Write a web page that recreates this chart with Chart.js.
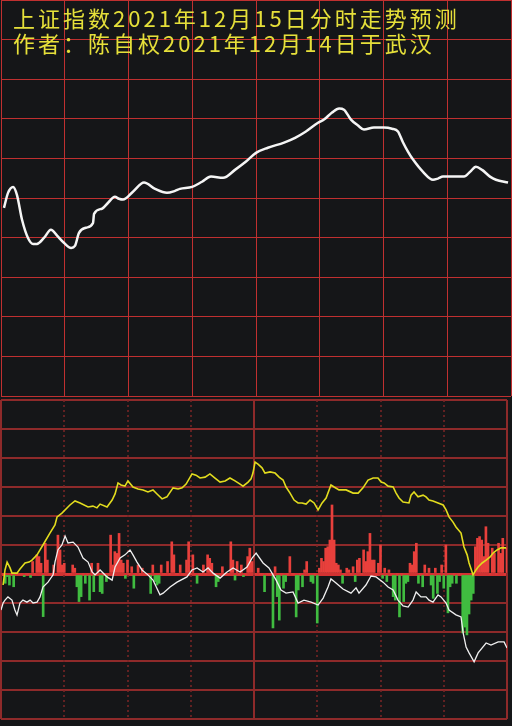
<!DOCTYPE html>
<html>
<head>
<meta charset="utf-8">
<script src="https://cdn.jsdelivr.net/npm/chart.js@4"></script>
<style>
  html, body { margin: 0; padding: 0; background: #151618; }
  #wrap { position: relative; width: 512px; height: 726px; overflow: hidden; background: #151618; }
  canvas { position: absolute; left: 0; }
  #top { top: 0; width: 512px; height: 398px; }
  #bot { top: 398px; width: 512px; height: 328px; }
  #title {
    position: absolute; left: 13px; top: 5px;
    color: #e6e03a; font: 22px/25px "Noto Sans CJK SC", sans-serif;
    letter-spacing: 3px; white-space: nowrap;
  }
</style>
</head>
<body>
<div id="wrap">
  <canvas id="top" width="512" height="398"></canvas>
  <canvas id="bot" width="512" height="328"></canvas>
  <div id="title">上证指数2021年12月15日分时走势预测<br>作者：陈自权2021年12月14日于武汉</div>
</div>
<script>
// top panel: predicted intraday curve (minutes from open, grid units)
const priceMin = [1.4, 3.3, 5.7, 7.5, 9.9, 12.7, 15.1, 16.9, 20.2, 23.5, 26.4, 29.6, 33.0, 34.8, 36.7, 40.0,
  43.3, 43.8, 47.5, 50.4, 53.6, 55.5, 57.4, 62.1, 67.3, 72.5, 78.1, 81.9, 84.2, 89.9, 94.6, 98.8, 104.5,
  110.1, 115.3, 120.0, 125.6, 133.2, 138.4, 143.5, 149.2, 152.0, 155.8, 159.1, 161.4, 164.7, 168.0, 170.8,
  175.5, 180.2, 184.0, 186.8, 189.2, 191.5, 193.9, 198.6, 203.3, 205.6, 208.0, 213.2, 217.9, 220.7, 223.5,
  226.4, 230.1, 232.9, 238.6];
const priceVal = [4.75, 5.13, 5.28, 5.08, 4.45, 3.99, 3.84, 3.84, 3.99, 4.20, 4.05, 3.87, 3.74, 3.79, 4.12, 4.25,
  4.37, 4.60, 4.73, 4.88, 5.03, 4.98, 4.96, 5.16, 5.39, 5.23, 5.13, 5.18, 5.23, 5.28, 5.41, 5.54, 5.51,
  5.71, 5.92, 6.14, 6.27, 6.40, 6.52, 6.68, 6.90, 6.98, 7.16, 7.26, 7.23, 6.98, 6.83, 6.73,
  6.78, 6.78, 6.75, 6.68, 6.40, 6.17, 5.97, 5.66, 5.46, 5.49, 5.54, 5.54, 5.54, 5.66, 5.79,
  5.71, 5.54, 5.46, 5.39];

// bottom panel: yellow line
const yellowMin = [1.0, 1.9, 2.9, 4.3, 5.2, 7.6, 9.0, 11.4, 13.3, 14.7, 17.1, 19.9, 23.2, 25.6, 26.6, 28.9,
  32.7, 35.1, 37.5, 41.3, 43.6, 45.5, 47.0, 50.3, 52.7, 54.1, 55.5, 56.9, 58.8, 60.2, 62.6, 65.0, 67.4,
  69.7, 72.1, 74.0, 76.4, 78.7, 81.6, 84.0, 85.9, 87.8, 90.6, 92.5, 94.4, 96.8, 99.1, 101.5, 103.9, 106.3,
  108.6, 111.0, 113.4, 114.8, 117.2, 118.6, 119.5, 120.5, 121.9, 123.8, 125.2, 127.6, 130.0, 131.9, 133.8,
  135.2, 137.1, 139.0, 140.9, 142.8, 144.7, 146.6, 148.5, 150.4, 152.3, 154.2, 156.5, 158.0, 160.3, 163.7,
  167.0, 169.4, 171.7, 174.1, 176.5, 178.8, 180.3, 181.7, 183.6, 186.0, 187.4, 188.8, 190.7, 193.5, 194.5,
  195.9, 197.8, 200.2, 201.6, 203.0, 204.9, 207.3, 209.7, 211.1, 212.5, 214.4, 215.8, 218.2, 219.6, 221.1,
  222.0, 223.9, 225.3, 226.3, 228.2, 230.1, 232.0, 233.4, 235.3, 237.2, 239.6];
const yellowVal = [-0.38, 0.14, 0.41, 0.21, 0.03, 0.03, 0.17, 0.38, 0.41, 0.48, 0.66, 1.00, 1.41, 1.69, 1.97, 2.10,
  2.38, 2.52, 2.45, 2.31, 2.34, 2.28, 2.41, 2.31, 2.55, 2.76, 3.14, 3.07, 3.03, 3.21, 3.00, 2.93, 2.90,
  2.83, 2.90, 2.76, 2.59, 2.66, 2.97, 2.93, 2.97, 3.10, 3.45, 3.41, 3.31, 3.34, 3.45, 3.31, 3.17, 3.21,
  3.31, 3.21, 3.10, 3.03, 3.17, 3.28, 3.48, 3.86, 3.79, 3.66, 3.48, 3.52, 3.48, 3.34, 3.24,
  3.00, 2.79, 2.55, 2.45, 2.45, 2.41, 2.55, 2.45, 2.21, 2.45, 2.62, 3.07, 3.00, 2.90, 2.90,
  2.79, 2.79, 2.97, 3.24, 3.31, 3.31, 3.17, 3.14, 3.03, 3.00, 2.79, 2.62, 2.48, 2.45, 2.72,
  2.83, 2.66, 2.72, 2.66, 2.55, 2.52, 2.45, 2.38, 2.21, 1.97, 1.79, 1.62, 1.41, 0.93, 0.66,
  0.38, -0.03, 0.14, 0.24, 0.38, 0.48, 0.59, 0.72, 0.83, 0.90, 0.90];

// bottom panel: white line
const whiteMin = [0, 1.0, 1.9, 3.3, 5.2, 6.6, 7.6, 9.0, 10.4, 12.3, 13.8, 15.2, 17.1, 18.5, 19.9, 22.3, 24.7,
  25.6, 27.0, 28.9, 30.4, 31.8, 34.2, 36.5, 38.9, 41.3, 43.2, 44.6, 47.0, 50.3, 52.7, 54.1, 56.5, 58.8,
  61.2, 62.6, 64.5, 66.9, 69.7, 72.1, 75.4, 76.9, 80.2, 83.5, 88.2, 90.6, 93.0, 95.8, 98.2, 100.6, 103.9,
  107.2, 110.1, 113.4, 116.7, 119.1, 121.0, 124.3, 127.1, 130.5, 132.8, 135.2, 138.5, 140.9, 143.7, 147.1,
  150.4, 152.8, 155.1, 156.5, 158.9, 162.2, 166.0, 168.4, 169.8, 173.1, 175.5, 177.9, 181.2, 183.6, 186.0,
  188.3, 190.7, 193.1, 195.4, 196.9, 199.2, 201.6, 203.0, 204.9, 207.3, 208.7, 211.1, 212.5, 215.8, 218.2,
  219.2, 220.6, 222.0, 224.4, 226.3, 230.1, 232.4, 235.8, 238.6, 240];
const whiteVal = [-1.24, -1.00, -0.90, -0.79, -0.90, -1.24, -1.41, -1.00, -0.90, -0.97, -0.90, -1.00, -0.97, -0.79, -0.45, -0.28, -0.03,
  0.41, 0.83, 1.00, 1.31, 1.07, 1.10, 0.93, 0.55, 0.41, 0.07, -0.03, 0.14, -0.10, -0.21, 0.24, 0.55, 0.66,
  0.83, 0.66, 0.41, 0.14, -0.03, -0.21, -0.72, -0.66, -0.45, -0.28, -0.10, 0.14, 0.21, 0.07, 0.21, 0.03, -0.14,
  0.07, 0.21, 0.07, 0.24, 0.55, 0.72, 0.38, 0.21, -0.21, -0.55, -0.66, -0.62, -1.00, -0.90, -0.97,
  -1.07, -0.83, -0.45, -0.17, -0.31, -0.52, -0.66, -0.48, -0.66, -0.38, -0.07, -0.10, -0.28, -0.45, -0.55,
  -0.90, -1.10, -1.14, -0.90, -0.62, -0.79, -0.79, -0.90, -0.97, -0.72, -0.79, -1.00, -1.24, -1.41, -1.48,
  -2.03, -2.52, -2.72, -3.03, -2.72, -2.38, -2.45, -2.34, -2.34, -2.55];

// bottom panel: red/green bars, one per minute (0..240)
const flowBars = [
  0, 0, -0.32, -0.09, -0.38, 0, -0.44, 0, 0, 0,
  0, -0.09, 0, 0, -0.12, 0.43, 0, 0.66, 0.6, 0.37,
  -1.47, 1.06, 0.48, 0, 0, 0.31, 0, 1.34, 0.83, 0.31,
  0.37, 0, 0, 0, 0.31, 0.2, -0.44, -0.95, -0.78, 0,
  -0.32, 0, -0.9, 0.37, -0.61, 0, 0.37, -0.61, -0.67, 0,
  -0.26, 0, 1.34, 0.31, 0.77, 0.71, 1.4, 0.48, 0.37, -0.15,
  0.48, 0, 0.25, -0.49, 0, 0.31, 0, 0.2, 0, 0,
  0, -0.67, 0.31, -0.26, -0.38, -0.32, 0.31, 0, 0, 0.43,
  0, 1.11, 0.66, 0, 0, 0.31, 0, 0, 0.48, 1.11,
  0, 0.66, 0, -0.32, 0, 0, 0.31, 0, 0.66, 0.54,
  0.37, 0, -0.44, -0.26, 0, 0.25, 0, 0, 0, 1.11,
  0.48, -0.21, 0.43, 0, 0.31, -0.09, 0, 0.6, 0.89, 0.43,
  0, 0, 0.2, 0, 0, -0.61, 0, 0, 0, -1.86,
  0.25, -0.78, -1.59, 0, -0.49, -0.26, 0, 0.6, 0, 0,
  -1.48, -0.55, 0, -0.44, 0.14, 0.43, 0, -0.26, -0.32, 0,
  -1.69, 0.2, 0.54, 0.43, 0.89, 0.94, 1.17, 2.38, 1.17, 0.37,
  0.31, 0.14, -0.32, 0, 0.2, 0.14, 0, 0.25, -0.26, 0.48,
  0.54, 0, 0.83, 0.43, 0.77, 1.4, 0.48, 0.48, 0, 0.37,
  1.0, -0.15, 0.2, -0.26, 0.14, 0, -0.78, -0.9, 0, -1.48,
  0, -0.95, -0.32, -0.26, 0.37, 0.31, 0.77, 1.06, -0.32, 0,
  -0.44, 0.31, 0, 0.2, -0.38, -0.84, 0.2, -0.67, -0.26, 0.31,
  -0.49, 1.0, -1.34, -0.44, -0.32, 0, -0.32, 0, 0, -2.03,
  -1.83, -2.1, -1.38, -0.9, -0.67, 0.94, 1.23, 1.29, 1.17, 0.6,
  1.63, 1.06, 0, 0.89, 0.71, 0, 1.06, 0.71, 1.23, 0,
  0.89
];

function pts(xs, ys) {
  return xs.map((x, i) => ({ x: x, y: ys[i] }));
}

// axes take no room: the plot fills the canvas
function noRoom(scale) {
  if (scale.isHorizontal()) scale.height = 0;
  else scale.width = 0;
}

new Chart(document.getElementById('top'), {
  type: 'line',
  data: {
    datasets: [{
      label: '预测走势',
      data: pts(priceMin, priceVal),
      borderColor: '#f5f5f5',
      borderWidth: 2.5,
      pointRadius: 0,
      cubicInterpolationMode: 'monotone',
      fill: false
    }]
  },
  options: {
    responsive: false,
    animation: false,
    layout: { padding: { left: 1, right: 1, top: 0, bottom: 2 }, autoPadding: false },
    plugins: { legend: { display: false }, tooltip: { enabled: false } },
    scales: {
      x: {
        type: 'linear', min: 0, max: 240,
        ticks: { display: false, stepSize: 30 },
        grid: { color: '#c03030', lineWidth: 1, drawTicks: false },
        border: { display: false },
        afterFit: noRoom
      },
      y: {
        type: 'linear', min: 0, max: 10,
        ticks: { display: false, stepSize: 1 },
        grid: { color: '#c03030', lineWidth: 1, drawTicks: false },
        border: { display: false },
        afterFit: noRoom
      }
    }
  }
});

// vertical lines of the lower panel: solid at open, noon and close, dotted elsewhere
const vGrid = {
  id: 'vGrid',
  beforeDatasetsDraw(chart) {
    const { ctx, chartArea: a, scales: { x } } = chart;
    ctx.save();
    x.ticks.forEach(tk => {
      const px = Math.round(x.getPixelForValue(tk.value));
      const solid = tk.value % 120 === 0;
      ctx.beginPath();
      ctx.strokeStyle = solid ? '#8e2a2a' : '#7c2626';
      ctx.lineWidth = solid ? 2 : 1.5;
      ctx.setLineDash(solid ? [] : [2, 3]);
      ctx.moveTo(px, a.top);
      ctx.lineTo(px, a.bottom);
      ctx.stroke();
    });
    ctx.restore();
  }
};

new Chart(document.getElementById('bot'), {
  type: 'bar',
  data: {
    datasets: [
      {
        type: 'line', label: '黄线', data: pts(yellowMin, yellowVal),
        borderColor: '#e2dc1e', borderWidth: 1.6, pointRadius: 0, tension: 0, order: 0
      },
      {
        type: 'line', label: '白线', data: pts(whiteMin, whiteVal),
        borderColor: '#f0f0f0', borderWidth: 1.3, pointRadius: 0, tension: 0, order: 0
      },
      {
        type: 'bar', label: '红绿柱', data: flowBars.map((v, i) => ({ x: i, y: v })),
        backgroundColor: c => (c.raw && c.raw.y >= 0) ? '#e8403c' : '#40bc40',
        barThickness: 2, order: 1
      }
    ]
  },
  options: {
    responsive: false,
    animation: false,
    layout: { padding: { left: 1, right: 5, top: 2, bottom: 7 }, autoPadding: false },
    plugins: { legend: { display: false }, tooltip: { enabled: false } },
    scales: {
      x: {
        type: 'linear', min: 0, max: 240, offset: false,
        ticks: { display: false, stepSize: 30 },
        grid: { display: false },
        border: { display: false },
        afterFit: noRoom
      },
      y: {
        type: 'linear', min: -5, max: 6,
        ticks: { display: false, stepSize: 1 },
        grid: {
          color: c => c.tick.value === 0 ? '#d23232' : '#8e2a2a',
          lineWidth: c => c.tick.value === 0 ? 3 : 2,
          drawTicks: false
        },
        border: { display: false },
        afterFit: noRoom
      }
    }
  },
  plugins: [vGrid]
});
</script>
</body>
</html>
